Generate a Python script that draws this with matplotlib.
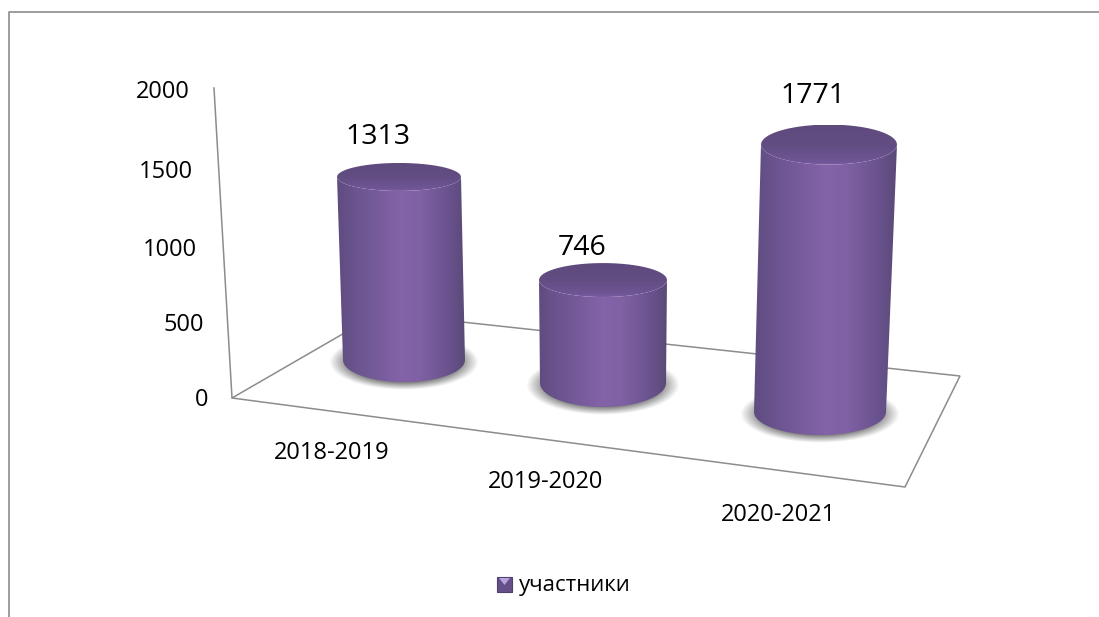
import numpy as np
import matplotlib
matplotlib.use('Agg')
import matplotlib.pyplot as plt
from matplotlib.path import Path
from matplotlib.patches import PathPatch, Polygon, Rectangle

plt.rcParams['font.family'] = ['Open Sans', 'DejaVu Sans']

years = ['2018-2019', '2019-2020', '2020-2021']
participants = [1313, 746, 1771]
y_ticks = [0, 500, 1000, 1500, 2000]
series_name = 'участники'

# perspective: pixels per unit and where each cylinder stands on the floor
px_per_unit = [0.1394, 0.138, 0.151]
base_xy = [(404, 360), (603, 383), (820, 412)]
base_ab = [(61, 22), (63, 24), (66, 23)]
top_ab = [(62, 14), (64, 17), (68, 20)]
lean = [-5, 0, 9]
label_xy = [(378, 137), (582, 248), (813, 96)]
year_xy = [(332, 453), (546, 482), (778, 515)]
tick_xy = [(208, 400), (204, 325), (197, 250), (193, 172), (190, 92)]

W, H = 1099, 617
fig = plt.figure(figsize=(W / 100, H / 100), dpi=100)
ax = fig.add_axes([0, 0, 1, 1])
ax.set_xlim(0, W)
ax.set_ylim(H, 0)
ax.axis('off')

line_col = '#8c8c8c'


def lerp_colors(stops, t):
    pos = [s[0] for s in stops]
    rgb = np.array([matplotlib.colors.to_rgb(s[1]) for s in stops])
    return np.stack([np.interp(t, pos, rgb[:, i]) for i in range(3)], axis=-1)


def ellipse_pts(cx, cy, a, b, t0, t1, n=60):
    t = np.linspace(t0, t1, n)
    return np.column_stack([cx + a * np.cos(t), cy + b * np.sin(t)])


def paint(img, extent, pts, z):
    im = ax.imshow(img, extent=extent, aspect='auto', zorder=z, interpolation='bilinear')
    im.set_clip_path(PathPatch(Path(np.vstack([pts, pts[:1]])), transform=ax.transData))


def shadow(cx, cy, a, b, z):
    xx, yy = np.meshgrid(np.linspace(-1, 1, 160), np.linspace(-1, 1, 100))
    r = np.sqrt(xx ** 2 + yy ** 2)
    alpha = np.clip((1 - r) / 0.3, 0, 1) * 0.85
    img = np.zeros((100, 160, 4))
    img[..., :3] = 0.33
    img[..., 3] = alpha
    ax.imshow(img, extent=(cx - a, cx + a, cy + b, cy - b), aspect='auto', zorder=z)


def cylinder(value, scale, base, b_ab, t_ab, dx, z):
    bx, by = base
    tx, ty = bx + dx, by - value * scale
    ba, bb = b_ab
    ta, tb = t_ab
    ba_s, bb_s = ba + 14, bb + 6
    shadow(bx, by + 2, ba_s, bb_s, z)

    body = np.vstack([ellipse_pts(tx, ty, ta, tb, np.pi, 0),
                      ellipse_pts(bx, by, ba, bb, 0, np.pi)])
    side_stops = [(0, '#5f4c80'), (0.15, '#6b548f'), (0.5, '#8463a9'),
                  (0.65, '#7f61a4'), (0.88, '#69528d'), (1, '#5b4a78')]
    x0, x1 = min(tx - ta, bx - ba), max(tx + ta, bx + ba)
    img = lerp_colors(side_stops, np.linspace(0, 1, 200))[None, :, :]
    paint(img, (x0, x1, by + bb, ty - tb), body, z + 1)

    # the lid, dark at the back, lighter towards the front rim
    lid = ellipse_pts(tx, ty, ta, tb, 0, 2 * np.pi)
    lid_stops = [(0, '#5e4a7c'), (0.55, '#634e84'), (0.92, '#6f5596'), (1, '#7a5ea4')]
    img = lerp_colors(lid_stops, np.linspace(0, 1, 80))[:, None, :]
    paint(img, (tx - ta, tx + ta, ty + tb, ty - tb), lid, z + 2)


# outer frame of the chart area, only top and left show
ax.plot([1099, 9, 9], [12, 12, 617], color=line_col, lw=1.2, zorder=1)

# floor and wall line
floor = Polygon([(232, 398), (905, 487), (960, 376), (379, 313)], closed=True,
                fill=False, edgecolor=line_col, lw=1.1, zorder=1)
ax.add_patch(floor)
ax.plot([232, 214], [398, 88], color=line_col, lw=1.1, zorder=1)

for i, v in enumerate(participants):
    cylinder(v, px_per_unit[i], base_xy[i], base_ab[i], top_ab[i], lean[i], 3 + i * 3)
    ax.text(label_xy[i][0], label_xy[i][1], str(v), fontsize=20.5, ha='center',
            va='center', color='black', zorder=20)
    ax.text(year_xy[i][0], year_xy[i][1], years[i], fontsize=17, ha='center',
            va='center', color='black', zorder=20)

for t, (x, y) in zip(y_ticks, tick_xy):
    ax.text(x, y, str(t), fontsize=17, ha='right', va='center', color='black', zorder=20)

# legend key with its little bevel
ax.add_patch(Rectangle((497, 577), 15, 15, facecolor='#654f88', edgecolor='#4f3f6c', lw=0.8, zorder=20))
ax.add_patch(Polygon([(499, 578), (510, 578), (504.5, 585)], closed=True,
                     facecolor='#b9a3dc', edgecolor='none', zorder=21))
ax.text(519, 586, series_name, fontsize=16, ha='left', va='center', color='black', zorder=20)

ax.set_xlim(0, W)
ax.set_ylim(H, 0)
fig.savefig('out.png', dpi=100)
